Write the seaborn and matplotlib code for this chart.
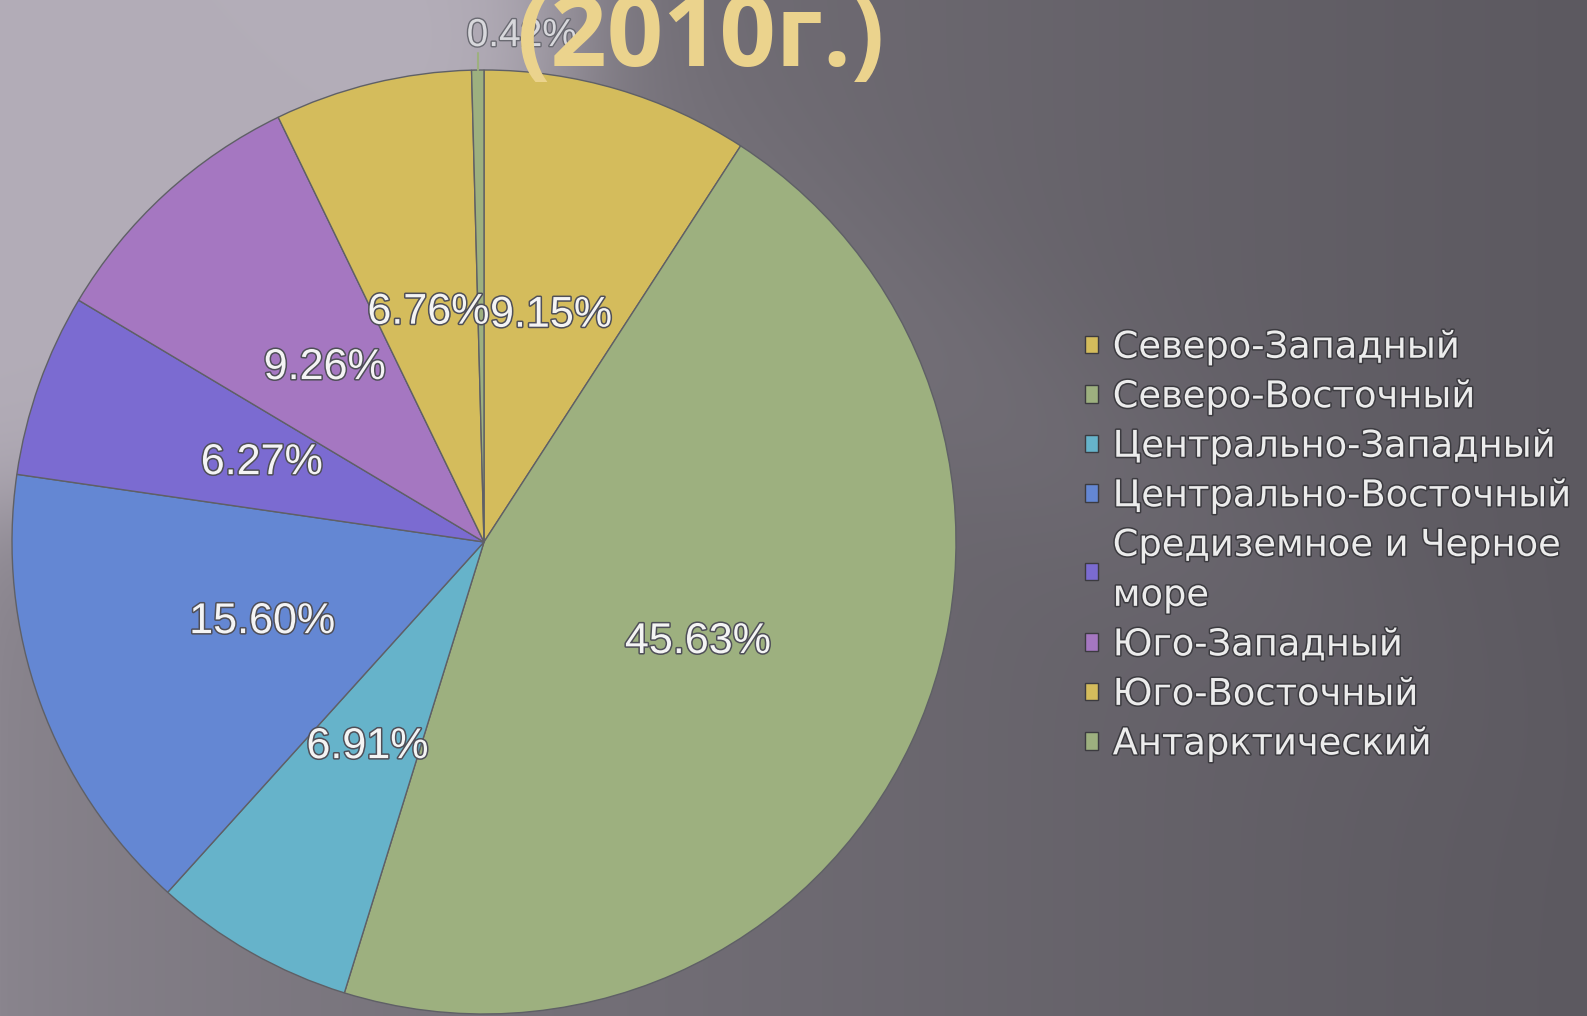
import numpy as np
import matplotlib
matplotlib.use("Agg")
import matplotlib.pyplot as plt
import matplotlib.patheffects as pe
import seaborn as sns

# ---- data ----
regions = ["Северо-Западный", "Северо-Восточный", "Центрально-Западный",
           "Центрально-Восточный", "Средиземное и Черное\nморе", "Юго-Западный",
           "Юго-Восточный", "Антарктический"]
shares = [9.15, 45.63, 6.91, 15.60, 6.27, 9.26, 6.76, 0.42]
title_text = "(2010г.)"

colors = ["#D4BC5C", "#9DB07F", "#66B3CA", "#6487D3", "#7B6BD1", "#A577C1",
          "#D4BC5C", "#9DB07F"]

sns.set_theme(style="white")
plt.rcParams['font.family'] = ['DejaVu Sans']

W, H = 1587, 1016
fig = plt.figure(figsize=(W / 100, H / 100), dpi=100)

# ---- background ----
bg = fig.add_axes([0, 0, 1, 1])
yy, xx = np.mgrid[0:H, 0:W].astype(float)
left_c = np.array([0x8a, 0x85, 0x8e]) / 255.0
right_c = np.array([0x5c, 0x59, 0x60]) / 255.0
light = np.array([0xb4, 0xae, 0xb9]) / 255.0
hx = (xx / W) ** 0.7
base = left_c[None, None, :] * (1 - hx[..., None]) + right_c[None, None, :] * hx[..., None]
d = np.sqrt(((xx + 40) / 640) ** 2 + ((yy + 20) / 560) ** 2)
g = 1.0 / (1.0 + np.exp((d - 0.95) / 0.06))
u = (xx * 0.6 - yy * 0.8)
band = np.exp(-((u - 260) / 120) ** 2) * np.exp(-((yy - 300) / 300) ** 2) * 0.10
t = np.clip(g * 0.97 + band, 0, 1)
img = base * (1 - t[..., None]) + light[None, None, :] * t[..., None]
bg.imshow(img, aspect="auto", extent=[0, W, H, 0])
bg.set_axis_off()

# ---- pie ----
cx, cy, r = 484, 542, 472
ax = fig.add_axes([(cx - r) / W, (H - cy - r) / H, 2 * r / W, 2 * r / H])
wedges, texts, autotexts = ax.pie(
    shares, colors=colors, startangle=90, counterclock=False,
    autopct=lambda p: f"{p:.2f}%", pctdistance=0.5,
    wedgeprops=dict(edgecolor="#5f6066", linewidth=1.0),
    textprops=dict(color="#f4f4f4", fontsize=31, family="Liberation Sans"))
ax.set_xlim(-1, 1)
ax.set_ylim(-1, 1)
ax.set_aspect("equal")
ax.set_axis_off()

for at in autotexts:
    at.set_path_effects([pe.withStroke(linewidth=2.2, foreground="#4f4f58")])

# small slice label outside with leader line
small = autotexts[-1]
w = wedges[-1]
ang = np.deg2rad((w.theta1 + w.theta2) / 2)
small.set_position((0.08, 1.072))
small.set_color("#d8d8dc")
small.set_fontsize(28)
small.set_path_effects([pe.withStroke(linewidth=2.0, foreground="#6a6a72")])
ax.plot([np.cos(ang), np.cos(ang)], [np.sin(ang), 1.035],
        color="#9DB07F", lw=1.5, clip_on=False)

# ---- title (cropped at top) ----
fig.text(701 / W, 1 - 66 / H, title_text, color="#EBD38D", fontsize=71,
         family="Open Sans", fontweight="bold", ha="center", va="baseline")

# ---- legend ----
leg = fig.legend(wedges, regions, loc="upper left",
                 bbox_to_anchor=(1070 / W, 1 - 314 / H), frameon=False,
                 fontsize=26.5, handlelength=0.36, handleheight=0.36,
                 handletextpad=0.4, labelspacing=0.34, borderaxespad=0)
for txt in leg.get_texts():
    txt.set_color("#ececec")
    txt.set_linespacing(1.45)
    txt.set_path_effects([pe.withStroke(linewidth=2.2, foreground="#3c3b40")])
for h in leg.legend_handles:
    h.set_edgecolor("#3c3b40")
    h.set_linewidth(1.0)

fig.savefig("out.png", dpi=100)
